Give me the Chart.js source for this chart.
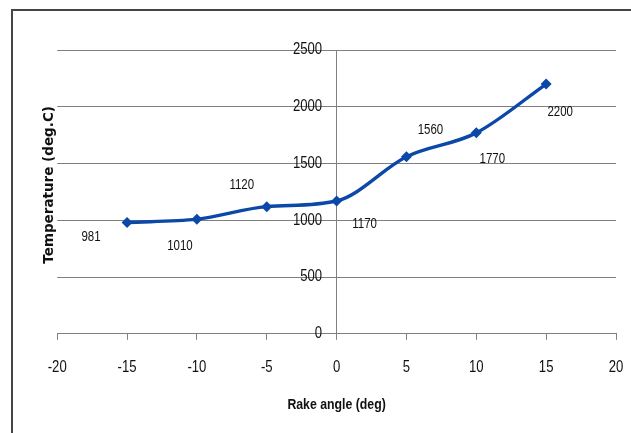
<!DOCTYPE html>
<html>
<head>
<meta charset="utf-8">
<script src="https://cdn.jsdelivr.net/npm/chart.js@4/dist/chart.umd.min.js"></script>
<style>
  html, body { margin: 0; padding: 0; background: #fff; }
  #wrap { position: relative; width: 631px; height: 433px; }
</style>
</head>
<body>
<div id="wrap"><canvas id="c" width="631" height="433"></canvas></div>
<script>
// ---- data ----
const rakeAngles = [-15, -10, -5, 0, 5, 10, 15];
const temperatures = [981, 1010, 1120, 1170, 1560, 1770, 2200];
const xTitle = 'Rake angle (deg)';
const yTitle = 'Temperature (deg.C)';

// Narrow text: Liberation Sans drawn at 82% width (the metric of Arial Narrow).
const NARROW = "'Liberation Sans', NarrowMark";
const SQUEEZE = 0.82;
(function () {
  const P = CanvasRenderingContext2D.prototype;
  const origFill = P.fillText, origMeasure = P.measureText;
  P.fillText = function (text, x, y, maxW) {
    if (this.font.indexOf('NarrowMark') !== -1) {
      this.save();
      this.translate(x, y);
      this.scale(SQUEEZE, 1);
      if (maxW !== undefined) origFill.call(this, text, 0, 0, maxW / SQUEEZE);
      else origFill.call(this, text, 0, 0);
      this.restore();
      return;
    }
    return maxW !== undefined ? origFill.call(this, text, x, y, maxW) : origFill.call(this, text, x, y);
  };
  P.measureText = function (text) {
    const m = origMeasure.call(this, text);
    if (this.font.indexOf('NarrowMark') !== -1) {
      return {
        width: m.width * SQUEEZE,
        actualBoundingBoxAscent: m.actualBoundingBoxAscent,
        actualBoundingBoxDescent: m.actualBoundingBoxDescent,
        actualBoundingBoxLeft: m.actualBoundingBoxLeft * SQUEEZE,
        actualBoundingBoxRight: m.actualBoundingBoxRight * SQUEEZE
      };
    }
    return m;
  };
})();

const framePlugin = {
  id: 'frame',
  beforeDraw(chart) {
    const ctx = chart.ctx;
    ctx.save();
    ctx.fillStyle = '#fff';
    ctx.fillRect(0, 0, chart.width, chart.height);
    ctx.fillStyle = '#454545';
    ctx.fillRect(11, 9, chart.width - 11, 2);
    ctx.fillRect(11, 9, 2, chart.height - 9);
    ctx.restore();
  }
};

// shift the value-axis tick labels away from the axis line (axis sits at x = 0)
const yLabelGap = {
  id: 'yLabelGap',
  beforeDraw(chart, args, opts) {
    const s = chart.scales.y;
    if (!s || typeof s._computeLabelItems !== 'function') return;
    const items = s._computeLabelItems(chart.chartArea);
    items.forEach(it => {
      if (it.options && it.options.translation) it.options.translation[0] -= opts.gap;
    });
    s._labelItems = items;
  }
};

const labelPlugin = {
  id: 'pointLabels',
  afterDatasetsDraw(chart, args, opts) {
    const ctx = chart.ctx;
    const meta = chart.getDatasetMeta(0);
    const ds = chart.data.datasets[0];
    ctx.save();
    ctx.font = opts.font;
    ctx.fillStyle = opts.color;
    ctx.textAlign = 'center';
    ctx.textBaseline = 'middle';
    meta.data.forEach((pt, i) => {
      const off = opts.offsets[i] || [0, 0];
      ctx.fillText(String(ds.data[i].y), pt.x + off[0], pt.y + off[1]);
    });
    ctx.restore();
  }
};

new Chart(document.getElementById('c'), {
  type: 'scatter',
  data: {
    datasets: [{
      data: rakeAngles.map((x, i) => ({ x: x, y: temperatures[i] })),
      showLine: true,
      cubicInterpolationMode: 'monotone',
      borderColor: '#0b48a8',
      backgroundColor: '#0b48a8',
      borderWidth: 3.4,
      pointStyle: 'rectRot',
      pointRadius: 5.5,
      pointHoverRadius: 5.5,
      pointBorderWidth: 0,
      xAxisID: 'x',
      yAxisID: 'y'
    }]
  },
  options: {
    responsive: false,
    animation: false,
    events: [],
    layout: { padding: { left: 15, right: 15, top: 50, bottom: 19 } },
    plugins: {
      legend: { display: false },
      tooltip: { enabled: false },
      yLabelGap: { gap: 14.5 },
      pointLabels: {
        font: "14px " + NARROW,
        color: '#111',
        offsets: [[-36, 15], [-17, 27], [-25, -22], [28, 23], [24, -27], [16, 26], [14, 28]]
      }
    },
    scales: {
      x: {
        type: 'linear',
        position: 'bottom',
        min: -20, max: 20,
        ticks: { stepSize: 5, color: '#111', font: { family: NARROW, size: 16 }, padding: 18 },
        grid: { drawOnChartArea: false, drawTicks: true, tickLength: 6, color: '#808080' },
        border: { display: true, color: '#808080', width: 1 },
        title: { display: true, text: xTitle, color: '#111', font: { family: NARROW, size: 15, weight: 'bold' }, padding: { top: 1, bottom: 0 } },
        afterFit(scale) { scale.paddingRight = 0; scale.paddingLeft = 0; }
      },
      y: {
        type: 'linear',
        position: { x: 0 },
        min: 0, max: 2500,
        ticks: { stepSize: 500, color: '#111', font: { family: NARROW, size: 16 }, padding: 0, callback: v => String(v) },
        grid: { color: '#808080', drawTicks: false },
        border: { display: true, color: '#808080', width: 1 },
        afterFit(scale) { scale.width = 0; }
      },
      yt: {
        type: 'linear',
        position: 'left',
        display: true,
        ticks: { display: false },
        grid: { display: false, drawTicks: false },
        border: { display: false },
        title: { display: true, text: '\u00a0\u00a0\u00a0' + yTitle, color: '#111', font: { family: "'DejaVu Sans', sans-serif", size: 13.5, weight: 'bold' }, padding: { top: 26, bottom: 0 } }
      }
    }
  },
  plugins: [framePlugin, yLabelGap, labelPlugin]
});
</script>
</body>
</html>
